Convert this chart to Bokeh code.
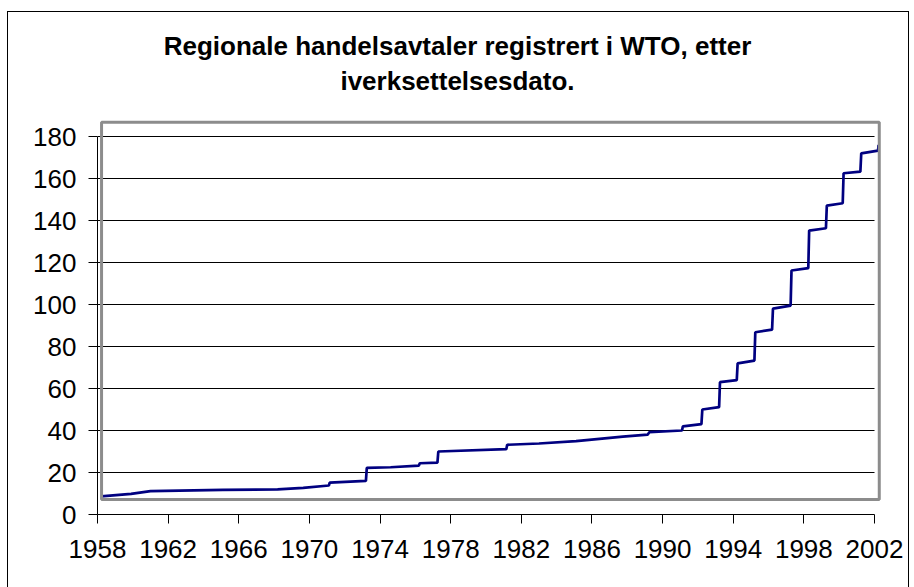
from bokeh.plotting import figure
from bokeh.models import FixedTicker, Range1d, BoxAnnotation, ColumnDataSource, Label
from bokeh.embed import file_html
from bokeh.resources import INLINE

# data (year as decimal, cumulative number of agreements)
years = [1958.2, 1959.9, 1961.0, 1965.1, 1968.2, 1969.65, 1971.1, 1971.15, 1973.2, 1973.25,
         1974.6, 1976.2, 1976.25, 1977.25, 1977.3, 1981.15, 1981.2, 1983.0, 1985.1, 1987.75,
         1989.15, 1989.25, 1991.1, 1991.15, 1992.2, 1992.25, 1993.2, 1993.25, 1994.2, 1994.25,
         1995.2, 1995.25, 1996.2, 1996.25, 1997.25, 1997.3, 1998.25, 1998.3, 1999.25, 1999.3,
         2000.2, 2000.25, 2001.2, 2001.25, 2002.2, 2002.23]
values = [8.6, 9.8, 11.1, 11.7, 12.0, 12.7, 13.8, 15.2, 16.0, 22.2,
          22.5, 23.3, 24.4, 24.7, 30.0, 31.1, 33.2, 33.8, 34.9, 37.1,
          38.0, 39.2, 40.0, 42.0, 43.0, 50.0, 51.1, 63.0, 64.0, 72.0,
          73.3, 86.8, 88.0, 98.0, 99.5, 116.2, 117.3, 135.2, 136.3, 147.1,
          148.2, 162.5, 163.3, 172.0, 173.3, 176.0]
x_ticks = list(range(1958, 2003, 4))
y_ticks = list(range(0, 181, 20))
title_lines = ["Regionale handelsavtaler registrert i WTO, etter", "iverksettelsesdato."]

FONT = "Liberation Sans"

# pixel geometry (axis span 1958..2002 = 777 px, 0..180 = 378 px)
px_per_year = 777 / 44
px_per_unit = 378 / 180
frame_w, frame_h = 785, 502          # frame reaches the top of the chart box (room for title)

def ydata(px_from_frame_top):
    return (frame_h - px_from_frame_top) / px_per_unit

p = figure(width=900, height=575, output_backend="svg", toolbar_location=None,
           x_range=Range1d(x_ticks[0], x_ticks[0] + frame_w / px_per_year),
           y_range=Range1d(0, frame_h / px_per_unit),
           min_border_left=89, min_border_right=26, min_border_top=0, min_border_bottom=73)
p.title_location = None
p.styles = {"margin-left": "8px", "margin-top": "12px", "outline": "1px solid black"}
p.outline_line_color = None
p.background_fill_color = "white"
p.border_fill_color = "white"

# grid (drawn only across the axis span)
p.xgrid.grid_line_color = None
p.ygrid.grid_line_color = None
p.segment(x0=[x_ticks[0]] * (len(y_ticks) - 1), x1=[x_ticks[-1]] * (len(y_ticks) - 1),
          y0=y_ticks[1:], y1=y_ticks[1:], line_color="black", line_width=1)

# axes
for ax, ticks in ((p.xaxis[0], x_ticks), (p.yaxis[0], y_ticks)):
    ax.ticker = FixedTicker(ticks=ticks)
    ax.bounds = (ticks[0], ticks[-1])
    ax.axis_line_color = "black"
    ax.major_tick_line_color = "black"
    ax.major_tick_out = 9
    ax.major_tick_in = 0
    ax.minor_tick_line_color = None
    ax.major_label_text_font = FONT
    ax.major_label_text_font_size = "26px"
    ax.major_label_text_color = "black"
p.xaxis[0].major_label_standoff = 16
p.yaxis[0].major_label_standoff = 12

# offset gray plot-area border
p.add_layout(BoxAnnotation(left=1958.23, right=2002.27, bottom=7.1, top=186.8,
                           fill_alpha=0, line_color="#8c8c8c", line_alpha=1.0, line_width=3))

src = ColumnDataSource(dict(x=years, y=values))
p.line("x", "y", source=src, line_color="#000080", line_width=2.7)

# two-line title centred on the chart box
title_x = x_ticks[0] + (449 - 89) / px_per_year
for txt, base in zip(title_lines, (33, 68)):
    p.add_layout(Label(x=title_x, y=ydata(base), text=txt, text_align="center",
                       text_baseline="alphabetic", text_font=FONT, text_font_style="bold",
                       text_font_size="26px", text_color="black"))

open("out.html", "w").write(file_html(p, INLINE))
